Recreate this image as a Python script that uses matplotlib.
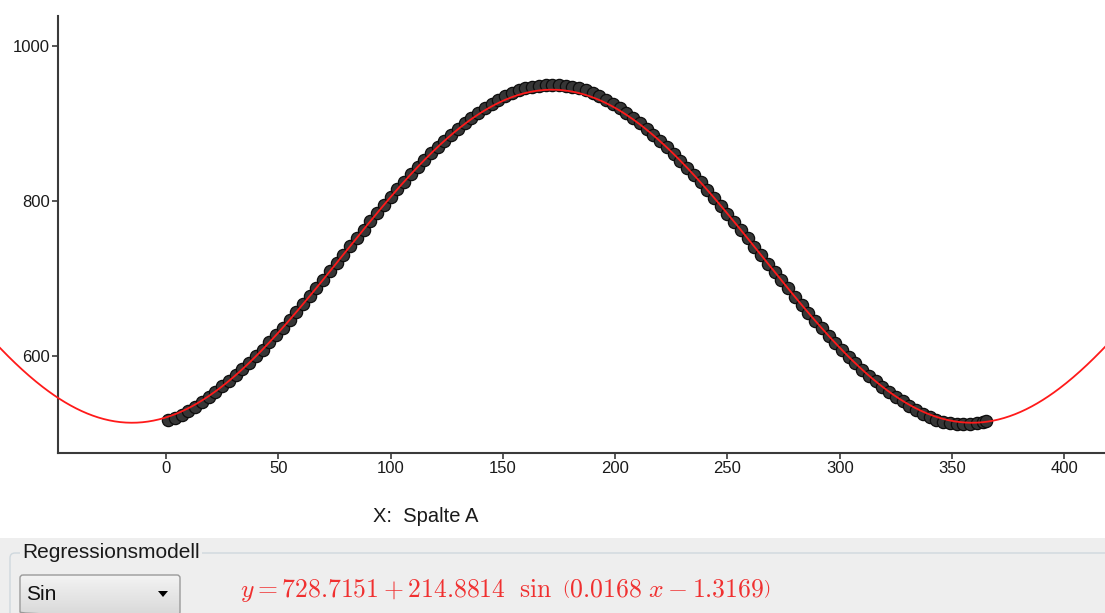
import numpy as np
import matplotlib
matplotlib.use('Agg')
import matplotlib.pyplot as plt
from matplotlib.patches import Rectangle, FancyBboxPatch, Polygon

plt.rcParams['font.family'] = ['Liberation Sans', 'DejaVu Sans']
plt.rcParams['mathtext.fontset'] = 'cm'

# data (Spalte A vs. Spalte B)
days = list(range(1, 365, 3)) + [365]
values = [517.0, 520.1, 523.9, 528.5, 533.8, 540.0, 546.8, 554.0, 560.8, 567.7,
          575.0, 582.8, 591.0, 599.5, 608.3, 617.4, 626.8, 636.5, 646.4, 656.5,
          666.8, 677.2, 687.8, 698.5, 709.2, 720.0, 730.9, 741.7, 752.5, 763.2,
          773.9, 784.4, 794.8, 805.0, 815.0, 824.8, 834.4, 843.6, 852.7, 861.4,
          869.7, 877.6, 885.3, 893.5, 900.8, 907.7, 914.1, 920.1, 925.5, 930.5,
          935.5, 939.5, 942.9, 945.3, 947.2, 948.8, 949.7, 950.0, 949.7, 948.7,
          947.1, 945.2, 942.7, 939.2, 935.2, 930.2, 925.2, 919.7, 913.7, 907.3,
          900.4, 893.0, 884.8, 877.2, 869.2, 860.8, 852.1, 843.0, 833.7, 824.2,
          814.4, 804.3, 794.1, 783.7, 773.2, 762.5, 751.8, 740.9, 730.2, 719.3,
          708.5, 697.8, 687.1, 676.5, 666.1, 655.8, 645.7, 635.8, 626.2, 616.8,
          607.7, 598.9, 590.5, 582.3, 574.6, 567.2, 560.3, 553.8, 547.7, 541.5,
          535.8, 530.2, 525.4, 521.3, 518.0, 515.3, 513.5, 512.4, 512.0, 512.4,
          513.5, 515.3, 516.1]

# regression model shown in the panel
coef_a, coef_b, coef_c, coef_d = 728.7151, 214.8814, 0.0168, -1.3169
xticks = [0, 50, 100, 150, 200, 250, 300, 350, 400]
yticks = [600, 800, 1000]

W, H = 1105, 613
fig = plt.figure(figsize=(W / 100, H / 100), dpi=100, facecolor='white')

ax = fig.add_axes([0, 1 - 453 / H, 1, (453 - 16) / H])
ax.set_facecolor('none')
x0, x1 = -73.9, 418.1
ax.set_xlim(x0, x1)
ax.set_ylim(474.8, 1038.7)

ax.scatter(days, values, s=78, facecolor='#363636', edgecolor='#0d0d0d',
           linewidth=0.9, zorder=3)

xs = np.linspace(x0, x1, 800)
ax.plot(xs, coef_a + coef_b * np.sin(coef_c * xs + coef_d), color='#ff1a1a',
        lw=1.3, zorder=4)

for s in ['top', 'right']:
    ax.spines[s].set_visible(False)
ax.spines['left'].set_position(('data', -48))
ax.spines['bottom'].set_bounds(-48, x1)
for s in ['left', 'bottom']:
    ax.spines[s].set_color('#3a3a3a')
    ax.spines[s].set_linewidth(1.5)
ax.set_xticks(xticks)
ax.set_yticks(yticks)
ax.tick_params(direction='out', length=4, width=1.2, color='#3a3a3a',
               labelsize=12, labelcolor='#1a1a1a', pad=2)

# lower part: axis caption and regression panel, in pixel coordinates
pax = fig.add_axes([0, 0, 1, 1], zorder=-1)
pax.set_xlim(0, W)
pax.set_ylim(H, 0)
pax.axis('off')

pax.text(373, 517, 'X:  Spalte A', fontsize=14.5, color='#1a1a1a',
         ha='left', va='center')

pax.add_patch(Rectangle((0, 538), W, H - 538, facecolor='#eeeeee', edgecolor='none'))
pax.add_patch(FancyBboxPatch((10, 553), W + 20, 80,
                             boxstyle='round,pad=0,rounding_size=5',
                             facecolor='none', edgecolor='#cfd8de', lw=1.0))
pax.text(22, 553, 'Regressionsmodell', fontsize=15, color='#1a1a1a',
         ha='left', va='center',
         bbox=dict(facecolor='#eeeeee', edgecolor='none', pad=1.5))

box = FancyBboxPatch((20, 575), 160, 40, boxstyle='round,pad=0,rounding_size=3',
                     facecolor='none', edgecolor='#9a9a9a', lw=1.0, zorder=3)
pax.add_patch(box)
grad = np.linspace(0, 1, 50).reshape(-1, 1)
cmap = matplotlib.colors.LinearSegmentedColormap.from_list('g', ['#f3f3f3', '#d9d9d9'])
im = pax.imshow(grad, extent=(20, 180, 615, 575), cmap=cmap, aspect='auto', zorder=2)
im.set_clip_path(box)
pax.set_xlim(0, W)
pax.set_ylim(H, 0)
pax.text(26, 595, 'Sin', fontsize=15, color='#111111', ha='left', va='center', zorder=4)
pax.add_patch(Polygon([(158, 591), (168, 591), (163, 597)], closed=True,
                      facecolor='black', edgecolor='none', zorder=4))

pax.text(240, 590,
         r'$y = 728.7151 + 214.8814\ \ \sin\ \left(0.0168\ x - 1.3169\right)$',
         fontsize=18.5, color='#f03030', ha='left', va='center')

fig.savefig('out.png', dpi=100, facecolor='white')
